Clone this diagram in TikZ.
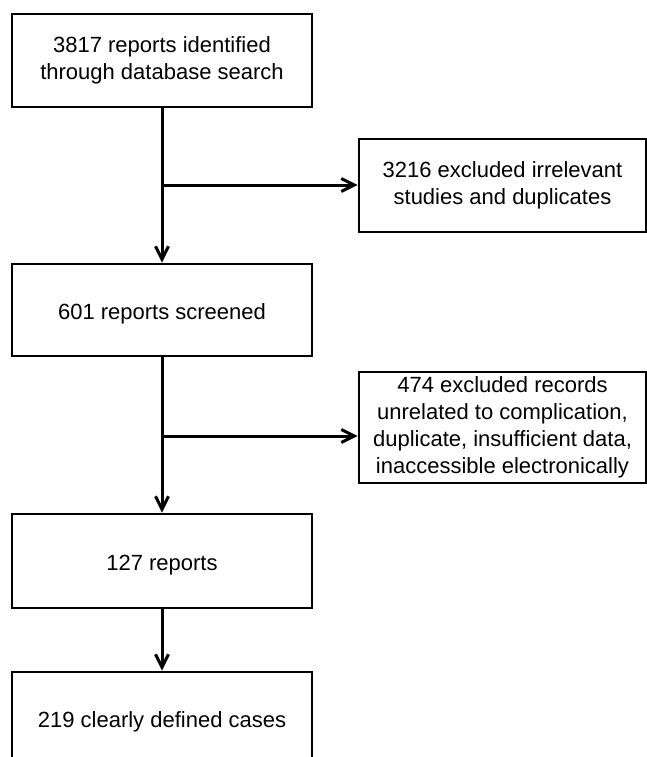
\documentclass[tikz,border=0pt]{standalone}
\usepackage{fontspec}
\setmainfont{Liberation Sans}
\usepackage{tikz}
\usetikzlibrary{arrows.meta}
\usetikzlibrary{positioning}

\begin{document}
\begin{tikzpicture}[x=0.5pt,y=-0.5pt,
  box/.style={draw, line width=1.35pt, align=center, inner sep=0pt,
    font=\fontsize{11}{13.4}\selectfont},
  onebox/.style={box, text height=9pt, text depth=0pt},
  arr/.style={line width=1.5pt, -{Straight Barb[length=6.5pt,width=6.5pt]}}]
 \useasboundingbox (0,0) rectangle (647,757);

 % main column
 \node[box, minimum width=150pt, minimum height=46.5pt] (ident) at (162,60.5) {3817 reports identified\\through database search};
 \node[onebox, minimum width=150pt, minimum height=46pt] (screen) at (162,310) {601 reports screened};
 \node[onebox, minimum width=150pt, minimum height=47pt] (rep) at (162,561) {127 reports};
 \node[onebox, minimum width=150pt, minimum height=46pt] (cases) at (162,718) {219 clearly defined cases};

 % excluded boxes
 \node[box, minimum width=143.5pt, minimum height=46.5pt] (excla) at (502.5,185.5) {3216 excluded irrelevant\\studies and duplicates};
 \node[box, minimum width=143.5pt, minimum height=55.5pt] (exclb) at (502.5,427.5) {474 excluded records\\unrelated to complication,\\duplicate, insufficient data,\\inaccessible electronically};

 \coordinate (splita) at (162,185);
 \coordinate (splitb) at (162,436);

 \draw[arr] (ident) -- (screen);
 \draw[arr] (screen) -- (rep);
 \draw[arr] (rep) -- (cases);
 \draw[arr] (splita) -- (splita -| excla.west);
 \draw[arr] (splitb) -- (splitb -| exclb.west);

\end{tikzpicture}
\end{document}
